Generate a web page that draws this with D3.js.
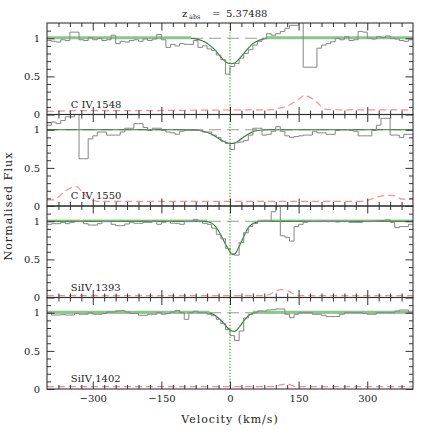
<!DOCTYPE html>
<html><head><meta charset="utf-8">
<script src="https://cdn.jsdelivr.net/npm/d3@7"></script>
<style>
body{margin:0;background:#fff;}
svg{display:block;}
text{font-family:"DejaVu Serif",serif;fill:#222;}
</style>
</head><body>
<svg id="c" width="436" height="436"></svg>
<script>
// ---------------- data ----------------
const zabs = "5.37488";
const ions = ["C IV 1548", "C IV 1550", "SiIV 1393", "SiIV 1402"];
const binStart = -400, binWidth = 10;
const velGrid = d3.range(binStart, 400, binWidth); // left edges of pixels
const continuumLevel = 1;

const flux1548 = [0.97,0.96,0.95,0.98,0.97,1.08,1.08,0.98,0.97,1.01,
  0.98,1.00,0.97,0.98,1.04,0.93,0.96,0.95,0.97,0.98,
  0.96,0.99,0.97,0.99,1.05,0.98,0.88,0.92,0.90,0.93,
  0.92,0.92,0.97,0.88,0.90,0.86,0.84,0.78,0.72,0.53,
  0.63,0.67,0.74,0.80,0.85,0.91,0.96,1.00,1.06,1.04,
  1.06,1.09,1.13,1.17,1.17,1.30,0.62,0.62,0.62,0.87,
  0.91,0.93,0.955,1.00,0.98,1.02,0.97,0.98,1.09,1.08,
  1.00,0.99,1.02,1.01,1.03,1.00,0.99,0.97,0.96,0.98];
const flux1550 = [1.06,1.10,1.08,1.12,1.17,1.17,1.30,0.62,0.62,0.88,
  0.92,0.97,0.97,0.93,0.93,0.93,0.97,1.02,1.02,1.08,
  1.08,1.03,0.99,1.02,1.02,0.99,0.97,0.96,0.94,0.98,
  0.99,0.99,0.99,0.99,0.97,0.97,0.93,0.90,0.85,0.82,
  0.74,0.83,0.84,0.86,0.93,1.02,1.02,0.93,0.94,0.98,
  1.04,0.98,0.92,0.90,0.91,0.92,0.93,0.93,0.98,0.96,
  0.96,0.94,0.94,0.99,1.00,1.00,0.99,0.98,0.92,0.92,
  0.92,0.99,1.06,1.15,1.15,0.93,0.93,0.90,0.94,0.94];
const flux1393 = [0.96,0.968,0.968,0.986,0.968,0.986,0.995,0.995,0.968,0.95,
  0.95,0.968,0.995,0.995,0.96,0.942,0.942,0.964,0.986,0.973,
  0.973,0.986,0.986,1.004,0.96,0.986,0.995,0.975,0.973,0.96,
  0.995,0.995,1.025,0.995,0.973,0.96,0.91,0.83,0.77,0.645,
  0.575,0.555,0.72,0.85,0.93,0.97,1.00,1.00,1.00,1.125,
  1.30,0.81,0.79,0.74,0.93,0.96,0.986,1.00,0.995,0.995,
  1.00,0.995,1.00,0.99,0.995,0.995,0.986,0.986,0.986,0.995,
  0.995,1.00,1.004,1.01,1.02,0.986,0.916,0.93,0.93,0.96];
const flux1402 = [1.00,0.97,0.97,0.975,0.97,0.97,0.99,0.98,0.98,1.00,
  0.98,0.98,0.99,1.01,1.01,1.025,1.03,1.01,0.99,0.99,
  0.966,0.966,0.98,0.98,1.00,0.98,0.99,1.01,1.03,1.00,
  0.914,1.00,1.02,1.00,1.00,0.98,0.96,0.914,0.86,0.78,
  0.70,0.635,0.76,0.93,0.98,1.00,1.023,1.023,1.036,1.04,
  1.05,1.05,0.98,0.936,0.98,1.00,1.00,1.00,0.98,0.98,
  0.966,0.95,0.95,0.95,0.98,1.00,1.00,1.00,1.00,0.99,
  0.98,0.98,1.00,1.00,1.00,1.00,1.023,1.036,1.036,1.00];

const err1548 = [[-400,0.04],[-370,0.045],[-340,0.05],[-200,0.05],[0,0.06],[90,0.06],[105,0.08],[120,0.1],[130,0.125],[148,0.19],[163,0.26],[178,0.215],[192,0.15],[203,0.085],[213,0.063],[300,0.06],[400,0.06]];
const err1550 = [[-400,0.08],[-385,0.08],[-374,0.12],[-363,0.183],[-352,0.227],[-341,0.26],[-333,0.25],[-323,0.183],[-312,0.118],[-301,0.075],[-290,0.06],[0,0.06],[290,0.06],[302,0.075],[320,0.118],[338,0.14],[352,0.14],[363,0.13],[374,0.09],[400,0.09]];
const err1393 = [[-400,0.024],[80,0.024],[90,0.05],[100,0.085],[110,0.105],[120,0.1],[130,0.08],[140,0.04],[150,0.024],[400,0.024]];
const err1402 = [[-400,0.03],[100,0.03],[110,0.055],[120,0.065],[130,0.06],[140,0.035],[150,0.03],[400,0.03]];

const model1548 = [[-400,1],[-90,1],[-70,0.985],[-55,0.95],[-45,0.91],[-35,0.86],[-25,0.79],[-15,0.72],[-5,0.675],[3,0.665],[10,0.675],[20,0.73],[30,0.8],[40,0.87],[50,0.93],[60,0.965],[70,0.985],[85,0.997],[100,1],[400,1]];
const model1550 = [[-400,1],[-90,1],[-70,0.995],[-55,0.975],[-45,0.955],[-35,0.925],[-25,0.885],[-15,0.85],[-5,0.825],[3,0.82],[10,0.825],[20,0.86],[30,0.905],[40,0.945],[50,0.975],[60,0.99],[70,0.997],[85,1],[400,1]];
const model1393 = [[-400,1],[-60,1],[-50,0.995],[-40,0.975],[-30,0.92],[-20,0.82],[-10,0.7],[0,0.6],[6,0.56],[12,0.58],[20,0.67],[30,0.8],[40,0.915],[50,0.97],[60,0.992],[70,1],[400,1]];
const model1402 = [[-400,1],[-55,1],[-45,0.995],[-35,0.975],[-25,0.93],[-15,0.87],[-5,0.8],[3,0.765],[10,0.755],[16,0.78],[25,0.85],[35,0.93],[45,0.98],[55,0.997],[65,1],[400,1]];

// continuum-fit ranges (light green band)
const band1548 = [[-400,-85],[80,400]];
const band1550 = [];
const band1393 = [[-400,-50],[60,400]];
const band1402 = [[-400,-45],[50,400]];
const bandOnTop = [true, false, false, true];
const bandLevel = 1.006;

const xMajor = [-300,-150,0,150,300];
const xMinor = d3.range(-375, 400, 25).filter(v => v % 150 !== 0);
const yMajor = [0, 0.5, 1];
const yMajorLabels = ["0", "0.5", "1"];
const yMinor = [0.1,0.2,0.3,0.4,0.6,0.7,0.8,0.9,1.1];

// ---------------- layout ----------------
const L = 47, R = 413, T = 23, B = 389;
const nP = 4, pH = (B - T) / nP;
const svg = d3.select("#c");
const x = d3.scaleLinear().domain([-400, 400]).range([L, R]);
const fmtX = d => d < 0 ? "\u2212" + Math.abs(d) : String(d);

const panels = [
  {label: ions[0], flux: flux1548, err: err1548, model: model1548, band: band1548},
  {label: ions[1], flux: flux1550, err: err1550, model: model1550, band: band1550},
  {label: ions[2], flux: flux1393, err: err1393, model: model1393, band: band1393},
  {label: ions[3], flux: flux1402, err: err1402, model: model1402, band: band1402}
];

const defs = svg.append("defs");

panels.forEach((p, i) => {
  const top = T + i * pH, bot = top + pH;
  const y = d3.scaleLinear().domain([0, 1.2]).range([bot, top]);
  const line = d3.line().x(d => x(d[0])).y(d => y(d[1]));
  const cid = "clip" + i;
  defs.append("clipPath").attr("id", cid).append("rect")
    .attr("x", L).attr("y", top).attr("width", R - L).attr("height", pH);
  const g = svg.append("g").attr("clip-path", `url(#${cid})`);

  const drawBand = (w, col) => p.band.forEach(r => {
    g.append("path").datum([[r[0], bandLevel], [r[1], bandLevel]])
      .attr("d", line).attr("fill", "none")
      .attr("stroke", col).attr("stroke-width", w);
  });

  if (!bandOnTop[i]) drawBand(2.6, "#a0d0a0");
  // dashed unit continuum
  g.append("path").datum([[-400, continuumLevel], [400, continuumLevel]])
    .attr("d", line).attr("fill", "none")
    .attr("stroke", "#9a9a9a").attr("stroke-width", 1)
    .attr("stroke-dasharray", "12,6");
  // error spectrum
  g.append("path").datum(p.err)
    .attr("d", line).attr("fill", "none")
    .attr("stroke", "#ff8c8c").attr("stroke-width", 1.2)
    .attr("stroke-dasharray", "7,4");
  // model
  g.append("path").datum(p.model)
    .attr("d", d3.line().curve(d3.curveMonotoneX).x(d => x(d[0])).y(d => y(d[1])))
    .attr("fill", "none").attr("stroke", "#2b7d2b").attr("stroke-width", 1.1);
  if (bandOnTop[i]) drawBand(3, "#8cc68c");
  // flux histogram
  const pts = velGrid.map((v, j) => [v, p.flux[j]]);
  pts.push([400, p.flux[p.flux.length - 1]]);
  g.append("path").datum(pts)
    .attr("d", d3.line().curve(d3.curveStepAfter).x(d => x(d[0])).y(d => y(d[1])))
    .attr("fill", "none").attr("stroke", "#858585").attr("stroke-width", 1);
  // zero velocity
  g.append("path").datum([[0, 0], [0, 1.2]])
    .attr("d", line).attr("fill", "none")
    .attr("stroke", "#2ca02c").attr("stroke-width", 1.1)
    .attr("stroke-dasharray", "1.2,1.8");

  // axes
  const ax = svg.append("g").attr("class", "ax");
  const mk = (axis, tr) => {
    const a = ax.append("g").attr("transform", tr).call(axis);
    a.select(".domain").remove();
    a.selectAll("line").attr("stroke", "#333");
    a.selectAll("text").attr("fill", "#222")
      .style("font-family", '"DejaVu Serif",serif').style("font-size", "10px");
    return a;
  };
  mk(d3.axisBottom(x).tickValues(xMinor).tickSize(-4).tickFormat(""), `translate(0,${bot})`);
  mk(d3.axisTop(x).tickValues(xMinor).tickSize(-4).tickFormat(""), `translate(0,${top})`);
  mk(d3.axisTop(x).tickValues(xMajor).tickSize(-7.5).tickFormat(""), `translate(0,${top})`);
  mk(d3.axisBottom(x).tickValues(xMajor).tickSize(-7.5).tickPadding(6)
      .tickFormat(i === nP - 1 ? fmtX : ""), `translate(0,${bot})`);
  mk(d3.axisLeft(y).tickValues(yMinor).tickSize(-4).tickFormat(""), `translate(${L},0)`);
  mk(d3.axisRight(y).tickValues(yMinor).tickSize(-4).tickFormat(""), `translate(${R},0)`);
  mk(d3.axisRight(y).tickValues(yMajor).tickSize(-7.5).tickFormat(""), `translate(${R},0)`);
  mk(d3.axisLeft(y).tickValues(yMajor).tickSize(-7.5).tickPadding(7)
      .tickFormat((d, k) => yMajorLabels[k]), `translate(${L},0)`);

  // frame
  svg.append("rect").attr("x", L).attr("y", top).attr("width", R - L).attr("height", pH)
    .attr("fill", "none").attr("stroke", "#333").attr("stroke-width", 1.1);

  // ion label
  svg.append("text").attr("x", x(-348)).attr("y", y(0.09))
    .style("font-size", "10px").text(p.label);
});

// title
const t = svg.append("g");
t.append("text").attr("x", 182).attr("y", 16.5).style("font-size", "10px").text("z");
t.append("text").attr("x", 189).attr("y", 18.5).style("font-size", "6.5px").text("abs");
t.append("text").attr("x", 212).attr("y", 16.5).style("font-size", "10px").text("=");
t.append("text").attr("x", 226).attr("y", 16.5).style("font-size", "10px").text(zabs);

// axis titles
svg.append("text").attr("x", x(0)).attr("y", 423).attr("text-anchor", "middle")
  .style("font-size", "11px").style("letter-spacing", "1px").text("Velocity (km/s)");
svg.append("text").attr("transform", `translate(12,${(T + B) / 2}) rotate(-90)`)
  .attr("text-anchor", "middle").style("font-size", "11px").style("letter-spacing", "1.1px")
  .text("Normalised Flux");
</script>
</body></html>
